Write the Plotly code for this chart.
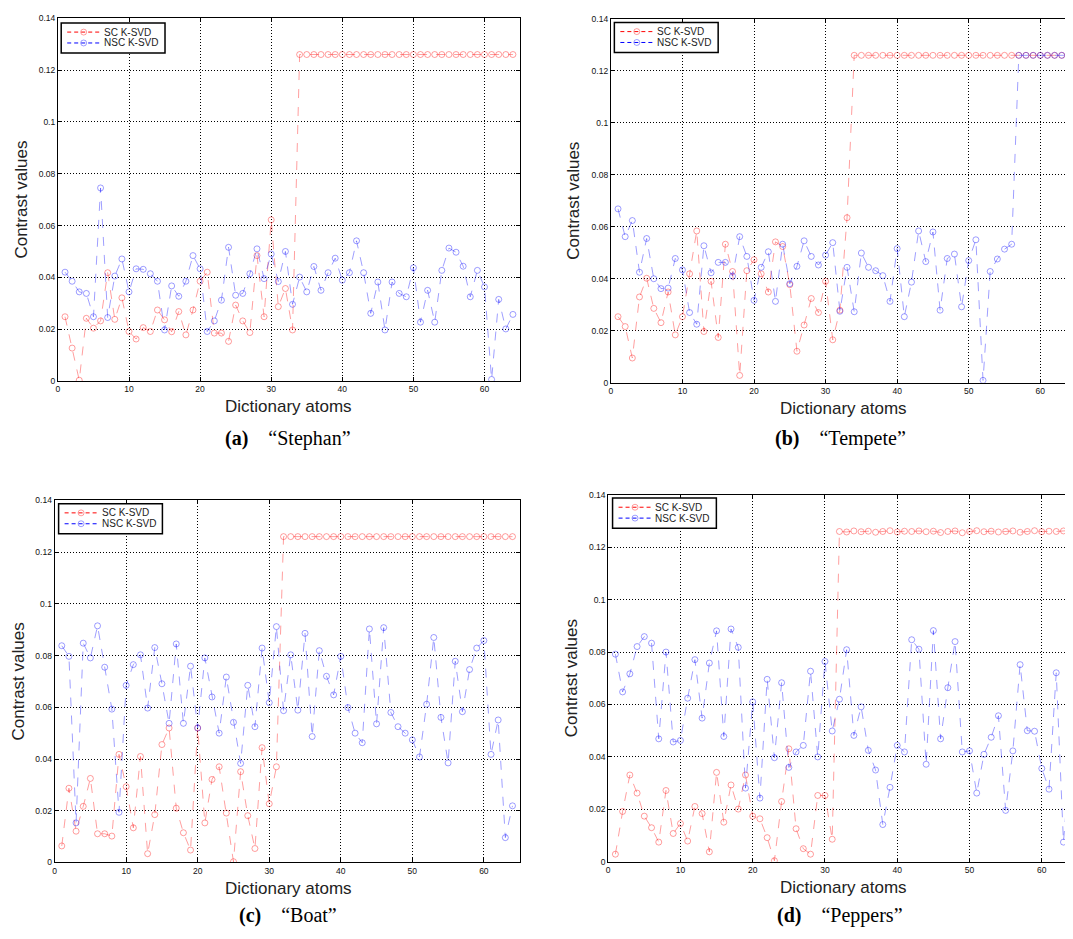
import plotly.graph_objects as go

atoms = list(range(1, 65))

# (a) Stephan
sc_stephan = [0.0248, 0.0127, 0.0003, 0.0242, 0.0204, 0.0232, 0.0418, 0.0238, 0.0321, 0.0191,
              0.0162, 0.0206, 0.0191, 0.0274, 0.0236, 0.0190, 0.0268, 0.0178, 0.0274, 0.0385,
              0.0420, 0.0185, 0.0185, 0.0153, 0.0293, 0.0232, 0.0187, 0.0484, 0.0248, 0.0622,
              0.0287, 0.0357, 0.0197] + [0.126] * 31
nsc_stephan = [0.0420, 0.0385, 0.0344, 0.0338, 0.0248, 0.0745, 0.0245, 0.0405, 0.0471, 0.0344,
               0.0433, 0.0431, 0.0414, 0.0385, 0.0197, 0.0367, 0.0327, 0.0385, 0.0484, 0.0433,
               0.0191, 0.0232, 0.0312, 0.0516, 0.0331, 0.0338, 0.0414, 0.0510, 0.0395, 0.0490,
               0.0384, 0.0500, 0.0296, 0.0401, 0.0344, 0.0442, 0.0350, 0.0418, 0.0474, 0.0389,
               0.0418, 0.0541, 0.0418, 0.0261, 0.0382, 0.0197, 0.0382, 0.0338, 0.0325, 0.0437,
               0.0227, 0.0350, 0.0227, 0.0427, 0.0513, 0.0497, 0.0443, 0.0325, 0.0427, 0.0363,
               0.0006, 0.0315, 0.0201, 0.0257]

# (b) Tempete
sc_tempete = [0.0254, 0.0216, 0.0095, 0.0330, 0.0402, 0.0286, 0.0231, 0.0349, 0.0184, 0.0254,
              0.0419, 0.0584, 0.0197, 0.0390, 0.0174, 0.0533, 0.0428, 0.0028, 0.0431, 0.0473,
              0.0419, 0.0349, 0.0542, 0.0524, 0.0377, 0.0121, 0.0222, 0.0324, 0.0270, 0.0390,
              0.0165, 0.0279, 0.0635] + [0.126] * 31
nsc_tempete = [0.0669, 0.0562, 0.0624, 0.0425, 0.0555, 0.0400, 0.0362, 0.0364, 0.0478, 0.0434,
               0.0270, 0.0225, 0.0527, 0.0423, 0.0463, 0.0463, 0.0410, 0.0562, 0.0486, 0.0317,
               0.0444, 0.0504, 0.0313, 0.0533, 0.0381, 0.0448, 0.0546, 0.0486, 0.0453, 0.0491,
               0.0539, 0.0275, 0.0444, 0.0273, 0.0499, 0.0444, 0.0431, 0.0412, 0.0313, 0.0516,
               0.0254, 0.0387, 0.0584, 0.0466, 0.0580, 0.0279, 0.0478, 0.0495, 0.0292, 0.0470,
               0.0550, 0.0009, 0.0428, 0.0476, 0.0514, 0.0533] + [0.126] * 8

# (c) Boat
sc_boat = [0.0064, 0.0287, 0.0121, 0.0217, 0.0325, 0.0111, 0.0111, 0.0102, 0.0418, 0.0293,
           0.0134, 0.0410, 0.0034, 0.0185, 0.0456, 0.0520, 0.0210, 0.0115, 0.0048, 0.0520,
           0.0153, 0.0321, 0.0370, 0.0191, 0.0003, 0.0351, 0.0181, 0.0054, 0.0444, 0.0227,
           0.0370] + [0.126] * 33
nsc_boat = [0.0838, 0.0797, 0.0153, 0.0848, 0.0791, 0.0915, 0.0755, 0.0593, 0.0194, 0.0685,
            0.0765, 0.0803, 0.0597, 0.0831, 0.0691, 0.0538, 0.0845, 0.0538, 0.0759, 0.0520,
            0.0791, 0.0640, 0.0500, 0.0717, 0.0542, 0.0383, 0.0685, 0.0525, 0.0829, 0.0618,
            0.0912, 0.0587, 0.0803, 0.0589, 0.0886, 0.0487, 0.0819, 0.0720, 0.0648, 0.0797,
            0.0599, 0.0500, 0.0463, 0.0903, 0.0536, 0.0908, 0.0580, 0.0525, 0.0500, 0.0474,
            0.0408, 0.0612, 0.0870, 0.0561, 0.0385, 0.0778, 0.0583, 0.0746, 0.0829, 0.0858,
            0.0418, 0.0551, 0.0096, 0.0219]

# (d) Peppers
sc_peppers = [0.0029, 0.0192, 0.0331, 0.0262, 0.0174, 0.0130, 0.0075, 0.0272, 0.0108, 0.0146,
              0.0079, 0.0211, 0.0184, 0.0038, 0.0341, 0.0151, 0.0293, 0.0201, 0.0331, 0.0174,
              0.0164, 0.0092, 0.0004, 0.0230, 0.0431, 0.0126, 0.0050, 0.0029, 0.0253, 0.0253,
              0.0086,
              0.1260, 0.1258, 0.1262, 0.1259, 0.1261, 0.1257, 0.1260, 0.1263, 0.1258, 0.1261,
              0.1260, 0.1262, 0.1259, 0.1261, 0.1256, 0.1260, 0.1262, 0.1255, 0.1260, 0.1263,
              0.1259, 0.1261, 0.1258, 0.1260, 0.1262, 0.1257, 0.1260, 0.1263, 0.1259, 0.1261,
              0.1260, 0.1262, 0.1264]
nsc_peppers = [0.0792, 0.0648, 0.0717, 0.0821, 0.0859, 0.0834, 0.0469, 0.0800, 0.0457, 0.0463,
               0.0624, 0.0771, 0.0548, 0.0758, 0.0881, 0.0478, 0.0888, 0.0818, 0.0281, 0.0610,
               0.0243, 0.0696, 0.0397, 0.0683, 0.0360, 0.0419, 0.0444, 0.0727, 0.0400, 0.0764,
               0.0499, 0.0620, 0.0809, 0.0482, 0.0591, 0.0425, 0.0350, 0.0142, 0.0284, 0.0444,
               0.0419, 0.0847, 0.0811, 0.0372, 0.0882, 0.0469, 0.0664, 0.0840, 0.0419, 0.0423,
               0.0262, 0.0410, 0.0475, 0.0557, 0.0196, 0.0423, 0.0752, 0.0500, 0.0498, 0.0356,
               0.0277, 0.0721, 0.0075, 0.0410]

x_ticks = [0, 10, 20, 30, 40, 50, 60]
y_ticks = [0, 0.02, 0.04, 0.06, 0.08, 0.1, 0.12, 0.14]
y_tick_text = ["0", "0.02", "0.04", "0.06", "0.08", "0.1", "0.12", "0.14"]
series_names = ["SC K-SVD", "NSC K-SVD"]
captions = ["<b>(a)</b>&nbsp;&nbsp;&nbsp; \u201cStephan\u201d", "<b>(b)</b>&nbsp;&nbsp;&nbsp; \u201cTempete\u201d",
            "<b>(c)</b>&nbsp;&nbsp;&nbsp; \u201cBoat\u201d", "<b>(d)</b>&nbsp;&nbsp;&nbsp; \u201cPeppers\u201d"]

# the page body has an 8px margin: work in screen pixels and shift
OFF = 8
W, H = 1073 - OFF, 939 - OFF
panels = [
    # sc, nsc, plot box (left, right, top, bottom) in screen px, x max
    (sc_stephan, nsc_stephan, (56, 519, 13.3, 380), 65),
    (sc_tempete, nsc_tempete, (610, 1073, 14, 381.7), 64.57),
    (sc_boat, nsc_boat, (52.7, 518.6, 500.7, 866.7), 65),
    (sc_peppers, nsc_peppers, (607.3, 1073, 495, 866), 64.32),
]
legend_pos = [(59.3, 18), (613.5, 17.5), (56.7, 504), (611.7, 498.3)]
caption_pos = [(287, 438), (840, 438), (287, 920), (840, 920)]
xlab_x = [287, 843, 287, 843]
ylab_x = [20, 573, 16, 570]


def px(v):
    return (v - OFF) / W


def py(v):
    return 1 - (v - OFF) / H


RED_D = "rgba(255,0,0,0.38)"
BLUE_D = "rgba(0,0,255,0.38)"
RED_L = "rgb(255,0,0)"
BLUE_L = "rgb(0,0,255)"
FONT = "Liberation Sans, Arial"

fig = go.Figure()
annotations = []
shapes = []
layout = {}
for k, (sc, nsc, box, xmax) in enumerate(panels):
    n = k + 1
    xa = "x" if n == 1 else f"x{n}"
    ya = "y" if n == 1 else f"y{n}"
    l, r, t, b = box
    for vals, cd in [(sc, RED_D), (nsc, BLUE_D)]:
        fig.add_trace(go.Scatter(
            x=atoms, y=vals, mode="lines+markers", xaxis=xa, yaxis=ya,
            line=dict(color=cd, width=1, dash="dash"),
            marker=dict(symbol="circle-open", size=6, color=cd, line=dict(width=1, color=cd)),
            showlegend=False, cliponaxis=True, hoverinfo="skip"))
    axis_common = dict(showline=True, linecolor="black", linewidth=1, ticks="inside", ticklen=4,
                       tickcolor="black", showgrid=True, gridcolor="black", griddash="1px,2px",
                       gridwidth=1, zeroline=False,
                       tickfont=dict(family=FONT, size=8.5, color="#111"))
    layout["xaxis" if n == 1 else f"xaxis{n}"] = dict(
        domain=[px(l), min(px(r), 1.0)], range=[0, xmax], tickvals=x_ticks, anchor=ya,
        mirror="ticks", **axis_common)
    layout["yaxis" if n == 1 else f"yaxis{n}"] = dict(
        domain=[py(b), py(t)], range=[0, 0.14], tickvals=y_ticks, ticktext=y_tick_text,
        anchor=xa, mirror=("ticks" if n in (1, 3) else False), **axis_common)

    # legend box drawn as a framed key
    lx, ly = legend_pos[k]
    shapes.append(dict(type="rect", xref="paper", yref="paper", x0=px(lx), x1=px(lx + 104),
                       y0=py(ly + 30.5), y1=py(ly), line=dict(color="black", width=1.5),
                       fillcolor="white", layer="above"))
    for j, (name, cl, cd) in enumerate([(series_names[0], RED_L, RED_D),
                                        (series_names[1], BLUE_L, BLUE_D)]):
        yy = ly + 9.3 + 11 * j
        shapes.append(dict(type="line", xref="paper", yref="paper", x0=px(lx + 6), x1=px(lx + 39),
                           y0=py(yy), y1=py(yy), line=dict(color=cl, width=1, dash="4px,3px"),
                           layer="above"))
        shapes.append(dict(type="circle", xref="paper", yref="paper", x0=px(lx + 22.5 - 3),
                           x1=px(lx + 22.5 + 3), y0=py(yy + 3), y1=py(yy - 3),
                           line=dict(color=cd, width=1), layer="above"))
        annotations.append(dict(text=name, x=px(lx + 41), y=py(yy), xref="paper", yref="paper",
                                showarrow=False, xanchor="left", yanchor="middle",
                                font=dict(family=FONT, size=10, color="#222")))

    annotations.append(dict(text="Dictionary atoms", x=px(xlab_x[k]), y=py(b + 26),
                            xref="paper", yref="paper", showarrow=False,
                            xanchor="center", yanchor="middle",
                            font=dict(family=FONT, size=17, color="#222")))
    annotations.append(dict(text="Contrast values", x=px(ylab_x[k]), y=py((t + b) / 2),
                            xref="paper", yref="paper", textangle=-90, showarrow=False,
                            xanchor="center", yanchor="middle",
                            font=dict(family=FONT, size=17, color="#222")))
    cx, cy = caption_pos[k]
    annotations.append(dict(text=captions[k], x=px(cx), y=py(cy), xref="paper", yref="paper",
                            showarrow=False, xanchor="center", yanchor="middle",
                            font=dict(family="Liberation Serif, DejaVu Serif, serif", size=20,
                                      color="black")))

fig.update_layout(width=W, height=H, margin=dict(l=0, r=0, t=0, b=0),
                  paper_bgcolor="white", plot_bgcolor="white", showlegend=False,
                  annotations=annotations, shapes=shapes, **layout)
fig.write_html("out.html")
